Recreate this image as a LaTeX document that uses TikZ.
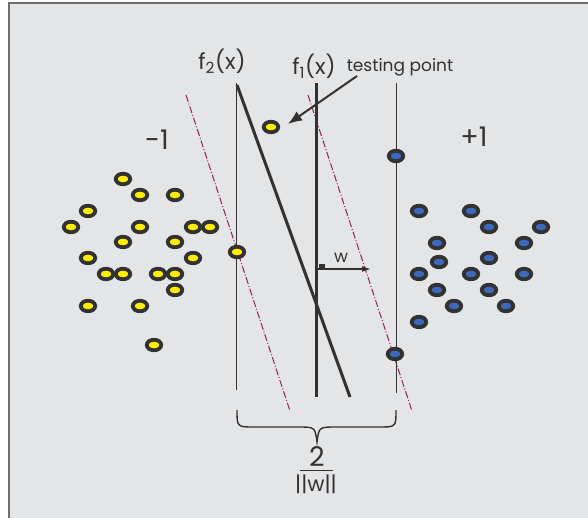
\documentclass[tikz,border=0pt]{standalone}
\usepackage{fontspec}
\setmainfont{Poppins}
\usetikzlibrary{shapes.geometric,arrows.meta}
\definecolor{bg}{RGB}{228,229,231}
\definecolor{frame}{RGB}{110,110,110}
\definecolor{ink}{RGB}{50,50,50}
\definecolor{ydot}{RGB}{255,238,0}
\definecolor{bdot}{RGB}{60,105,190}
\definecolor{dd}{RGB}{150,30,85}
\tikzset{
  dot/.style={ellipse,draw=ink,line width=3.8pt,inner sep=0pt,minimum width=14.5pt,minimum height=10.5pt},
  ypt/.style={dot,fill=ydot},
  bpt/.style={dot,fill=bdot},
  thinline/.style={draw=ink,line width=0.9pt},
  thickline/.style={draw=ink,line width=3pt},
  ddline/.style={draw=dd,line width=1pt,dash pattern=on 7pt off 2pt on 1pt off 2pt},
  lbl/.style={text=ink,inner sep=0pt},
}
\begin{document}
\begin{tikzpicture}[x=1pt,y=-1pt]
\useasboundingbox (0,0) rectangle (588,518);
\fill[white] (0,0) rectangle (588,518);
\fill[bg] (9,3) rectangle (588,518);
\draw[frame,line width=1.6pt] (9,518) -- (9,3) -- (588,3);

% guide lines
\coordinate (L1t) at (236,83);  \coordinate (L1b) at (236,390);
\coordinate (F1t) at (316.5,83);  \coordinate (F1b) at (316.5,397);
\coordinate (R1t) at (396,83);  \coordinate (R1b) at (396,393);
\coordinate (F2t) at (237,85);  \coordinate (F2b) at (350,397);
\coordinate (D1t) at (186,95);  \coordinate (D1b) at (290,411);
\coordinate (D2t) at (308,95);  \coordinate (D2b) at (412,411);
\draw[ddline] (D1t) -- (D1b);
\draw[ddline] (D2t) -- (D2b);
\draw[thinline] (L1t) -- (L1b);
\draw[thinline] (R1t) -- (R1b);
\draw[thickline] (F1t) -- (F1b);
\draw[thickline] (F2t) -- (F2b);

% yellow points
\foreach \n/\x/\y in {1/123/179,2/140/195,3/175/195,4/88/211,5/71/227,6/140/227,7/193/227,8/210/227,
  9/123/242,10/175/242,11/88/258,12/193/258,13/106/274,14/123/274,15/158/274,16/175/274,
  17/175/290,18/88/306,19/140/306,20/154/345,21/237/252}
  \node[ypt] (y\n) at (\x,\y) {};
\node[ypt] (tp) at (271,127) {};

% blue points
\foreach \n/\x/\y in {1/396/156,2/419/211,3/471/211,4/489/227,5/541/227,6/437/243,7/524/243,
  8/439/262,9/489/258,10/419/274,11/471/274,12/524/274,13/437/290,14/489/290,15/454/306,
  16/506/306,17/419/322,18/395/354}
  \node[bpt] (b\n) at (\x,\y) {};

% labels
\node[lbl,font=\fontsize{22}{22}\selectfont] (f2) at (222,61) {f\textsubscript{2}(x)};
\node[lbl,font=\fontsize{22}{22}\selectfont] (f1) at (314,66) {f\textsubscript{1}(x)};
\node[lbl,font=\fontsize{17}{17}\selectfont] (tpl) at (400,67) {testing point};
\node[lbl,font=\fontsize{27}{27}\selectfont] (neg) at (157,140) {-1};
\node[lbl,font=\fontsize{27}{27}\selectfont] (pos) at (474,137) {+1};

% testing point arrow
\coordinate (ta) at (357,76);
\coordinate (tb) at (288,124);
\draw[draw=ink,line width=2pt,-{Latex[length=14pt,width=11pt]}] (ta) -- (tb);
% w arrow
\coordinate (wa) at (318,269);
\coordinate (wb) at (371,269);
\draw[draw=ink,line width=1.4pt,-{Latex[length=9pt,width=6pt]}] (wa) -- (wb);
\fill[ink] (319,264) rectangle (325,268.5);
\node[lbl,font=\fontsize{17}{17}\selectfont] (w) at (341,258) {w};

% brace
\coordinate (bl) at (237,410);
\coordinate (br) at (396,410);
\coordinate (btip) at (317,442);
\draw[draw=ink,line width=1.4pt] (bl) .. controls (237,427) .. (254,427) -- (298,427)
  .. controls (315,427) .. (btip) .. controls (319,427) .. (336,427) -- (379,427)
  .. controls (396,427) .. (br);

% fraction
\node[lbl,font=\fontsize{27}{27}\selectfont] (num) at (317,457) {2};
\draw[draw=ink,line width=1.6pt] (300,470.5) -- (333,470.5);
\node[lbl,font=\fontsize{21}{21}\selectfont] (den) at (316,484) {||w||};
\end{tikzpicture}
\end{document}
